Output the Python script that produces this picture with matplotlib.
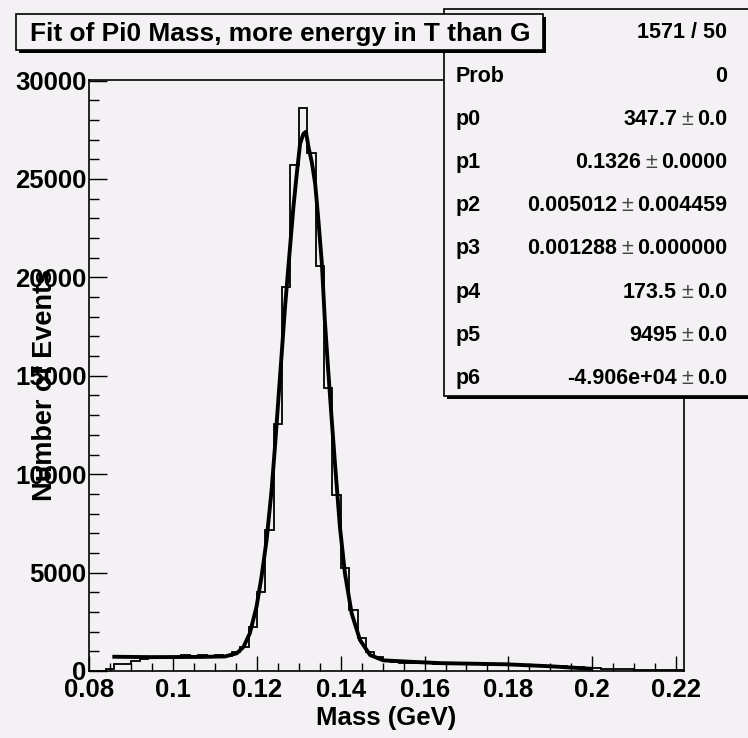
import matplotlib
matplotlib.use("Agg")
import matplotlib.pyplot as plt
import numpy as np
from matplotlib.patches import Rectangle
from matplotlib.ticker import MultipleLocator, FuncFormatter

# ---------------- data ----------------
x_min, x_max, n_bins = 0.08, 0.222, 71
counts = [0, 0, 100, 370, 380, 520, 620, 650, 680, 660,
          690, 800, 730, 800, 730, 800, 740, 950, 1230, 2220,
          4030, 7160, 12570, 19500, 25700, 28600, 26300, 20600, 14400, 8930,
          5230, 3100, 1670, 980, 725, 560, 470, 420, 390, 420,
          400, 380, 420, 370, 390, 340, 360, 330, 350, 300,
          320, 290, 280, 300, 250, 230, 250, 200, 190, 160,
          130, 120, 110, 100, 90, 70, 60, 50, 50, 40, 40]

fit_x = [0.0855, 0.0945, 0.1064, 0.1124, 0.1152, 0.1168, 0.1183, 0.1199, 0.1211, 0.1223,
         0.1235, 0.1243, 0.1251, 0.1259, 0.1267, 0.1279, 0.1287, 0.1295, 0.1303, 0.1311,
         0.1317, 0.1323, 0.1331, 0.1339, 0.1346, 0.1355, 0.1362, 0.1370, 0.1378, 0.1386,
         0.1398, 0.1410, 0.1426, 0.1446, 0.1470, 0.1502, 0.1565, 0.1637, 0.1795, 0.1900, 0.2000]
fit_y = [725, 705, 715, 740, 900, 1230, 1910, 3260, 4790, 6650,
         9190, 11390, 13760, 16100, 18490, 21540, 23570, 25260, 26790, 27300,
         27400, 26620, 25850, 24750, 23060, 20690, 17820, 15300, 12900, 10600,
         7320, 4960, 2930, 1570, 810, 540, 470, 400, 340, 240, 110]

title = "Fit of Pi0 Mass, more energy in T than G"
xlabel = "Mass (GeV)"
ylabel = "Number of Events"
chi2_text = "1571 / 50"
stat_names = ["Prob", "p0", "p1", "p2", "p3", "p4", "p5", "p6"]
stat_vals = ["0", "347.7", "0.1326", "0.005012", "0.001288", "173.5", "9495", "-4.906e+04"]
stat_errs = [None, "0.0", "0.0000", "0.004459", "0.000000", "0.0", "0.0", "0.0"]

# ---------------- style ----------------
BG = "#f4f1f4"
FONT = "Liberation Sans"
W, H = 748, 738

fig = plt.figure(figsize=(W / 100, H / 100), dpi=100, facecolor=BG)

def fx(px):
    return px / W

def fy(py):
    return 1 - py / H

ax = fig.add_axes([fx(89.3), fy(671), (684.4 - 89.3) / W, (671 - 80) / H])
ax.set_facecolor(BG)

edges = np.linspace(x_min, x_max, n_bins + 1)
ax.stairs(counts, edges, color="black", lw=1.3)
ax.plot(fit_x, fit_y, color="black", lw=2.8, solid_capstyle="butt")

ax.set_xlim(x_min, x_max)
ax.set_ylim(0, 30030)
ax.xaxis.set_major_locator(MultipleLocator(0.02))
ax.xaxis.set_minor_locator(MultipleLocator(0.005))
ax.yaxis.set_major_locator(MultipleLocator(5000))
ax.yaxis.set_minor_locator(MultipleLocator(1000))
ax.xaxis.set_major_formatter(FuncFormatter(lambda v, p: "%g" % round(v, 4)))
ax.yaxis.set_major_formatter(FuncFormatter(lambda v, p: "%d" % round(v)))

ax.tick_params(which="both", direction="in", top=False, right=False, width=1.0, color="black")
ax.tick_params(axis="y", which="major", length=13, pad=2)
ax.tick_params(axis="y", which="minor", length=7)
ax.tick_params(axis="x", which="major", length=11, pad=5)
ax.tick_params(axis="x", which="minor", length=5.5)
for lab in ax.get_xticklabels() + ax.get_yticklabels():
    lab.set_fontfamily(FONT)
    lab.set_fontweight("bold")
    lab.set_fontsize(18.5)
for s in ax.spines.values():
    s.set_linewidth(1.2)
    s.set_color("black")

fig.text(fx(45), fy(385), ylabel, rotation=90, ha="center", va="center",
         fontfamily=FONT, fontweight="bold", fontsize=19.5)
fig.text(fx(386), fy(718), xlabel, ha="center", va="center",
         fontfamily=FONT, fontweight="bold", fontsize=18.5)

# ---------------- stats box ----------------
def box(x0, y0, x1, y1, shadow=3, z=5):
    sh = Rectangle((fx(x0 + shadow), fy(y1 + shadow)), (x1 - x0) / W, (y1 - y0) / H,
                   transform=fig.transFigure, facecolor="black", edgecolor="none", zorder=z)
    bx = Rectangle((fx(x0), fy(y1)), (x1 - x0) / W, (y1 - y0) / H,
                   transform=fig.transFigure, facecolor=BG, edgecolor="black", lw=1.2, zorder=z + 0.1)
    fig.add_artist(sh)
    fig.add_artist(bx)

box(444, 9, 800, 396, shadow=3, z=5)

stat_fs = 15.5
row0 = 38.5
dy = 43.2
fig.canvas.draw()
rend = fig.canvas.get_renderer()
xr = 727
fig.text(fx(xr), fy(row0), chi2_text, ha="right", va="baseline", fontfamily=FONT,
         fontweight="bold", fontsize=stat_fs, zorder=6)
for i, (nm, v, e) in enumerate(zip(stat_names, stat_vals, stat_errs)):
    yb = row0 + dy * (i + 1)
    fig.text(fx(456), fy(yb), nm, ha="left", va="baseline", fontfamily=FONT,
             fontweight="bold", fontsize=stat_fs, zorder=6)
    if e is None:
        fig.text(fx(xr), fy(yb), v, ha="right", va="baseline", fontfamily=FONT,
                 fontweight="bold", fontsize=stat_fs, zorder=6)
        continue
    t_err = fig.text(fx(xr), fy(yb), e, ha="right", va="baseline", fontfamily=FONT,
                     fontweight="bold", fontsize=stat_fs, zorder=6)
    bb = t_err.get_window_extent(rend)
    t_pm = fig.text((bb.x0 - 4) / W, fy(yb), "\u00b1", ha="right", va="baseline", fontfamily=FONT,
                    fontweight="normal", fontsize=stat_fs, color="#444444", zorder=6)
    bb2 = t_pm.get_window_extent(rend)
    fig.text((bb2.x0 - 4) / W, fy(yb), v, ha="right", va="baseline", fontfamily=FONT,
             fontweight="bold", fontsize=stat_fs, zorder=6)

# ---------------- title box ----------------
box(16, 14, 543, 50, shadow=3, z=7)
fig.text(fx(280), fy(40.5), title, ha="center", va="baseline", fontfamily=FONT,
         fontweight="bold", fontsize=18.9, zorder=8)

fig.savefig("out.png", dpi=100, facecolor=BG)
